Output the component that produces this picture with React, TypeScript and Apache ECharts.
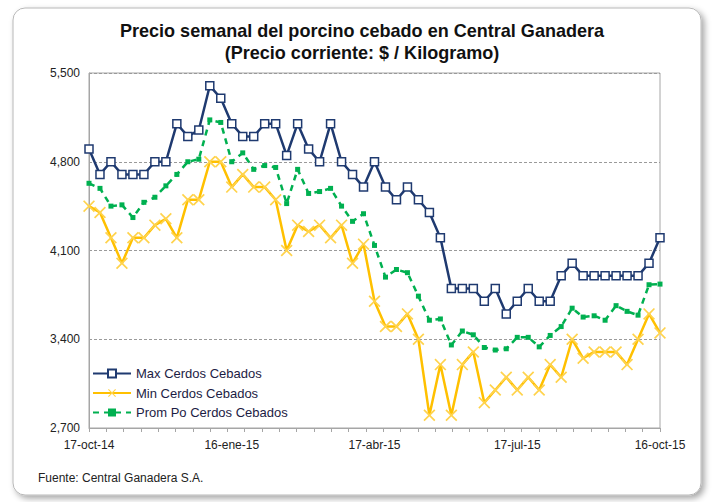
import React, { useEffect, useRef } from "react";
import * as echarts from "echarts";

const weeks: string[] = [
  "17-oct-14", "24-oct-14", "31-oct-14", "7-nov-14", "14-nov-14", "21-nov-14", "28-nov-14",
  "5-dic-14", "12-dic-14", "19-dic-14", "26-dic-14", "2-ene-15", "9-ene-15", "16-ene-15",
  "23-ene-15", "30-ene-15", "6-feb-15", "13-feb-15", "20-feb-15", "27-feb-15", "6-mar-15",
  "13-mar-15", "20-mar-15", "27-mar-15", "3-abr-15", "10-abr-15", "17-abr-15", "24-abr-15",
  "1-may-15", "8-may-15", "15-may-15", "22-may-15", "29-may-15", "5-jun-15", "12-jun-15",
  "19-jun-15", "26-jun-15", "3-jul-15", "10-jul-15", "17-jul-15", "24-jul-15", "31-jul-15",
  "7-ago-15", "14-ago-15", "21-ago-15", "28-ago-15", "4-sep-15", "11-sep-15", "18-sep-15",
  "25-sep-15", "2-oct-15", "9-oct-15", "16-oct-15",
];

const maxCerdos: number[] = [
  4900, 4700, 4800, 4700, 4700, 4700, 4800, 4800, 5100, 5000, 5050,
  5400, 5300, 5100, 5000, 5000, 5100, 5100, 4850, 5100, 4900, 4800,
  5100, 4800, 4700, 4600, 4800, 4600, 4500, 4600, 4500, 4400, 4200,
  3800, 3800, 3800, 3700, 3800, 3600, 3700, 3800, 3700, 3700, 3900,
  4000, 3900, 3900, 3900, 3900, 3900, 3900, 4000, 4200,
];

const minCerdos: number[] = [
  4450, 4400, 4200, 4000, 4200, 4200, 4300, 4350, 4200, 4500, 4500,
  4800, 4800, 4600, 4700, 4600, 4600, 4500, 4100, 4300, 4250, 4300,
  4200, 4300, 4000, 4150, 3700, 3500, 3500, 3600, 3400, 2800, 3200,
  2800, 3200, 3300, 2900, 3000, 3100, 3000, 3100, 3000, 3200, 3100,
  3400, 3250, 3300, 3300, 3300, 3200, 3400, 3600, 3450,
];

const promCerdos: number[] = [
  4630, 4590, 4450, 4460, 4360, 4480, 4520, 4610, 4700, 4800, 4820,
  5130, 5110, 4800, 4870, 4740, 4770, 4755, 4470, 4740, 4550, 4565,
  4590, 4450, 4330, 4390, 4140, 3890, 3950, 3925, 3740, 3550, 3560,
  3355, 3465, 3435, 3335, 3315, 3325, 3415, 3415, 3340, 3430, 3500,
  3645, 3575, 3585, 3550, 3665, 3620, 3590, 3830, 3835,
];

const seriesNames: string[] = ["Max Cerdos Cebados", "Min Cerdos Cebados", "Prom Po Cerdos Cebados"];
const yTicks: number[] = [2700, 3400, 4100, 4800, 5500];
const titleLines: string[] = [
  "Precio semanal del porcino cebado en Central Ganadera",
  "(Precio corriente: $ / Kilogramo)",
];

const xSymbol =
  "path://M0,1 L1,0 L5,4 L9,0 L10,1 L6,5 L10,9 L9,10 L5,6 L1,10 L0,9 L4,5 Z";

export default function App() {
  const ref = useRef<HTMLDivElement>(null);

  useEffect(() => {
    if (!ref.current) return;
    const chart = echarts.init(ref.current, undefined, { renderer: "svg" });
    const font = "'Liberation Sans', Arial, sans-serif";
    const titleStyle = {
      fontFamily: font,
      fontWeight: "bold",
      fontSize: 19,
      fill: "#111111",
      align: "center",
      verticalAlign: "middle",
    };
    chart.setOption({
      animation: false,
      backgroundColor: "#ffffff",
      graphic: [
        {
          type: "rect",
          z: -100,
          silent: true,
          shape: { x: 13, y: 8, width: 688, height: 487, r: 12 },
          style: {
            fill: "#ffffff",
            stroke: "#b8b8b8",
            lineWidth: 1,
            shadowBlur: 6,
            shadowOffsetX: 3,
            shadowOffsetY: 3,
            shadowColor: "rgba(0,0,0,0.35)",
          },
        },
        {
          type: "text",
          x: 362,
          y: 30,
          scaleX: 0.95,
          style: { ...titleStyle, text: titleLines[0] },
        },
        {
          type: "text",
          x: 362,
          y: 52,
          scaleX: 0.95,
          style: { ...titleStyle, text: titleLines[1] },
        },
        {
          type: "text",
          left: 38,
          top: 472,
          style: {
            text: "Fuente: Central Ganadera S.A.",
            fontFamily: font,
            fontSize: 12,
            fill: "#222222",
          },
        },
      ],
      legend: {
        data: seriesNames,
        orient: "vertical",
        left: 87,
        top: 362,
        itemWidth: 38,
        itemHeight: 10,
        itemGap: 6.5,
        textStyle: { fontFamily: font, fontSize: 13, color: "#1c1c44" },
      },
      grid: {
        left: 89,
        right: 57,
        top: 73,
        bottom: 74,
        show: true,
        borderColor: "#a6a6a6",
        borderWidth: 1,
        backgroundColor: "transparent",
      },
      xAxis: [
        {
          type: "category",
          data: weeks,
          boundaryGap: false,
          axisLine: { show: true, lineStyle: { color: "#a6a6a6", width: 1 } },
          axisTick: { show: false },
          axisLabel: {
            interval: 12,
            margin: 11,
            fontFamily: font,
            fontSize: 12,
            color: "#222222",
          },
          splitLine: { show: false },
        },
        {
          type: "value",
          min: 0,
          max: 33,
          interval: 1,
          position: "bottom",
          axisLine: { show: false },
          axisTick: { show: true, length: 4, lineStyle: { color: "#a6a6a6" } },
          axisLabel: { show: false },
          splitLine: { show: false },
        },
      ],
      yAxis: {
        type: "value",
        min: yTicks[0],
        max: yTicks[yTicks.length - 1],
        interval: 700,
        axisLine: { show: true, lineStyle: { color: "#a6a6a6" } },
        axisTick: { show: false },
        axisLabel: {
          margin: 9,
          fontFamily: font,
          fontSize: 12,
          color: "#222222",
          formatter: (v: number) => v.toLocaleString("en-US"),
        },
        splitLine: { show: true, lineStyle: { color: "#9a9a9a", type: [3, 2], width: 1 } },
      },
      series: [
        {
          name: seriesNames[0],
          type: "line",
          data: maxCerdos,
          z: 5,
          symbol: "rect",
          symbolSize: 8,
          showAllSymbol: true,
          lineStyle: { color: "#1f3a70", width: 2.5 },
          itemStyle: { color: "#ffffff", borderColor: "#1f3a70", borderWidth: 1.5 },
        },
        {
          name: seriesNames[1],
          type: "line",
          data: minCerdos,
          z: 3,
          symbol: xSymbol,
          symbolSize: 12,
          showAllSymbol: true,
          lineStyle: { color: "#ffc000", width: 2.5 },
          itemStyle: { color: "#ffd34d" },
        },
        {
          name: seriesNames[2],
          type: "line",
          data: promCerdos,
          z: 4,
          symbol: "rect",
          symbolSize: 5,
          showAllSymbol: true,
          lineStyle: { color: "#00b050", width: 2.5, type: [6, 5] },
          itemStyle: { color: "#00b050" },
        },
      ],
    });
    return () => chart.dispose();
  }, []);

  return (
    <div
      ref={ref}
      style={{ position: "absolute", left: 0, top: 0, width: 717, height: 502 }}
    />
  );
}
